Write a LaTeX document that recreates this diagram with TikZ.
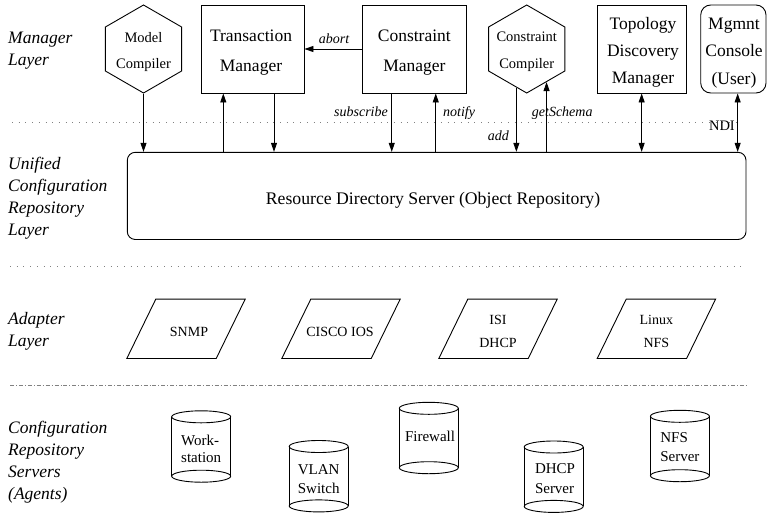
\documentclass[tikz,border=0pt]{standalone}
\usepackage{fontspec}
\setmainfont{Liberation Serif}
\usetikzlibrary{arrows.meta,shapes.geometric,calc}
\begin{document}
\begin{tikzpicture}[x=1pt,y=-1pt,
  every node/.style={inner sep=0pt},
  box/.style={draw, line width=0.9pt, minimum height=88pt},
  btxt/.style={align=center, font=\fontsize{17.5}{30}\selectfont},
  hexa/.style={draw, line width=0.9pt, regular polygon, regular polygon sides=6, shape border rotate=30, minimum size=88pt},
  htxt/.style={align=center, font=\fontsize{14.5}{26.7}\selectfont},
  lay/.style={anchor=west, align=left, font=\fontsize{17.5}{22}\selectfont\itshape},
  lbl/.style={font=\fontsize{14}{16}\selectfont\itshape},
  para/.style={minimum width=89pt, minimum height=59pt},
  ptxt/.style={align=center, font=\fontsize{14}{23.4}\selectfont},
  cyl/.style={minimum width=59pt, minimum height=59pt},
  ctxt/.style={align=left, font=\fontsize{15}{19.5}\selectfont},
  arr/.style={-{Triangle[length=9pt,width=6pt]}, line width=0.9pt},
  darr/.style={{Triangle[length=9pt,width=6pt]}-{Triangle[length=9pt,width=6pt]}, line width=0.9pt},
  sep/.style={gray, line width=0.9pt, dash pattern=on 0.9pt off 5.8pt},
  sepdd/.style={gray, line width=0.9pt, dash pattern=on 4pt off 2pt on 0.9pt off 2pt}
]
\useasboundingbox (0,0) rectangle (767,514);

% separators
\draw[sep] (12,122.7) -- (742,122.7);
\draw[sep] (10,266.7) -- (742,266.7);
\draw[sepdd] (10,385.5) -- (746,385.5);

% layer labels
\node[lay, font=\fontsize{17.5}{22.7}\selectfont\itshape] (l1) at (8,50.7) {Manager\\Layer};
\node[lay] (l2) at (8,198.3) {Unified\\Configuration\\Repository\\Layer};
\node[lay] (l3) at (8,331.8) {Adapter\\Layer};
\node[lay] (l4) at (8,462.5) {Configuration\\Repository\\Servers\\(Agents)};

% manager layer
\node[hexa] (mc) at (143.5,49) {};
\node[htxt] (mct) at (143.5,52) {Model\\Compiler};
\node[box, minimum width=103pt] (tm) at (252.5,49) {};
\node[btxt] (tmt) at (251,52.8) {Transaction\\Manager};
\node[box, minimum width=103.3pt] (cm) at (414.35,49) {};
\node[btxt] (cmt) at (414.35,52.8) {Constraint\\Manager};
\node[hexa] (cc) at (526.7,49) {};
\node[htxt] (cct) at (526.7,52) {Constraint\\Compiler};
\node[box, minimum width=88.7pt] (tdm) at (641.65,49) {};
\node[btxt, font=\fontsize{17.5}{27.3}\selectfont] (tdmt) at (643,52.5) {Topology\\Discovery\\Manager};
\node[box, rounded corners=10pt, minimum width=65.3pt] (mg) at (733.35,49) {};
\node[btxt, font=\fontsize{17.5}{27.8}\selectfont] (mgt) at (734,53) {Mgmnt\\Console\\(User)};

% repository
\node[draw, rounded corners=8pt, line width=0.9pt, minimum width=618.7pt, minimum height=87.2pt] (rds) at (436.65,195.9) {};
\node[font=\fontsize{17.7}{20}\selectfont] (rdst) at (433,200) {Resource Directory Server (Object Repository)};

% connector anchors
\coordinate (tmA) at ($(tm.south)+(-29.2,0)$);
\coordinate (tmB) at ($(tm.south)+(21.5,0)$);
\coordinate (cmA) at ($(cm.south)+(-22.6,0)$);
\coordinate (cmB) at ($(cm.south)+(21.4,0)$);
\coordinate (ccA) at (cc.255.3);
\coordinate (ccB) at (cc.301.6);
\coordinate (mgA) at ($(mg.south)+(4.3,0)$);

% connectors
\draw[arr] (mc.270) -- (mc.270 |- rds.north);
\draw[arr] (tmA |- rds.north) -- (tmA);
\draw[arr] (tmB) -- (tmB |- rds.north);
\draw[arr] (cm.west) -- (tm.east);
\draw[arr] (cmA) -- (cmA |- rds.north);
\draw[arr] (cmB |- rds.north) -- (cmB);
\draw[arr] (ccA) -- (ccA |- rds.north);
\draw[arr] (ccB |- rds.north) -- (ccB);
\draw[darr] (tdm.south) -- (tdm.south |- rds.north);
\draw[darr] (mgA) -- (mgA |- rds.north);

% connector labels
\node[lbl] (labort) at (334,38.5) {abort};
\node[lbl, anchor=base east] (lsub) at (388,116.5) {subscribe};
\node[lbl, anchor=base west] (lnot) at (443,116.5) {notify};
\node[lbl, anchor=base west] (lget) at (531.7,116.5) {getSchema};
\node[lbl, anchor=base east] (ladd) at (509,140) {add};
\node[font=\fontsize{14.5}{16}\selectfont, anchor=base east] (lndi) at (735,130) {NDI};

% adapter layer
\node[para] (snmp) at (186,328.8) {};
\node[para] (cisco) at (341,328.8) {};
\node[para] (isi) at (498,328.8) {};
\node[para] (linux) at (656.4,328.8) {};
\foreach \n in {snmp,cisco,isi,linux}{
  \draw[line width=0.9pt] ([xshift=14.5pt]\n.north west) -- ([xshift=14.5pt]\n.north east) -- ([xshift=-14.5pt]\n.south east) -- ([xshift=-14.5pt]\n.south west) -- cycle;
}
\node[ptxt] (snmpt) at (189,332) {SNMP};
\node[ptxt] (ciscot) at (340,332) {CISCO IOS};
\node[ptxt] (isit) at (498,331.5) {ISI\\DHCP};
\node[ptxt] (linuxt) at (656.4,331.5) {Linux\\NFS};

% servers
\node[cyl] (ws) at (201.2,446.5) {};
\node[cyl] (vlan) at (318.7,476.2) {};
\node[cyl] (fw) at (428.8,438) {};
\node[cyl] (dhcp) at (553.7,476.7) {};
\node[cyl] (nfs) at (679.9,446) {};
\foreach \n in {ws,vlan,fw,dhcp,nfs}{
  \draw[line width=0.9pt] (\n.north west) -- (\n.south west) (\n.north east) -- (\n.south east);
  \draw[line width=0.9pt] (\n.north) ellipse [x radius=29.5pt, y radius=6pt] (\n.south) ellipse [x radius=29.5pt, y radius=6pt];
}
\node[ctxt, font=\fontsize{15}{17}\selectfont] (wst) at (201.2,448.5) {Work-\\station};
\node[ctxt] (vlant) at (318.7,479) {VLAN\\Switch};
\node[ctxt] (fwt) at (430,436) {Firewall};
\node[ctxt] (dhcpt) at (555,478.5) {DHCP\\Server};
\node[ctxt] (nfst) at (679.9,447) {NFS\\Server};
\end{tikzpicture}
\end{document}
